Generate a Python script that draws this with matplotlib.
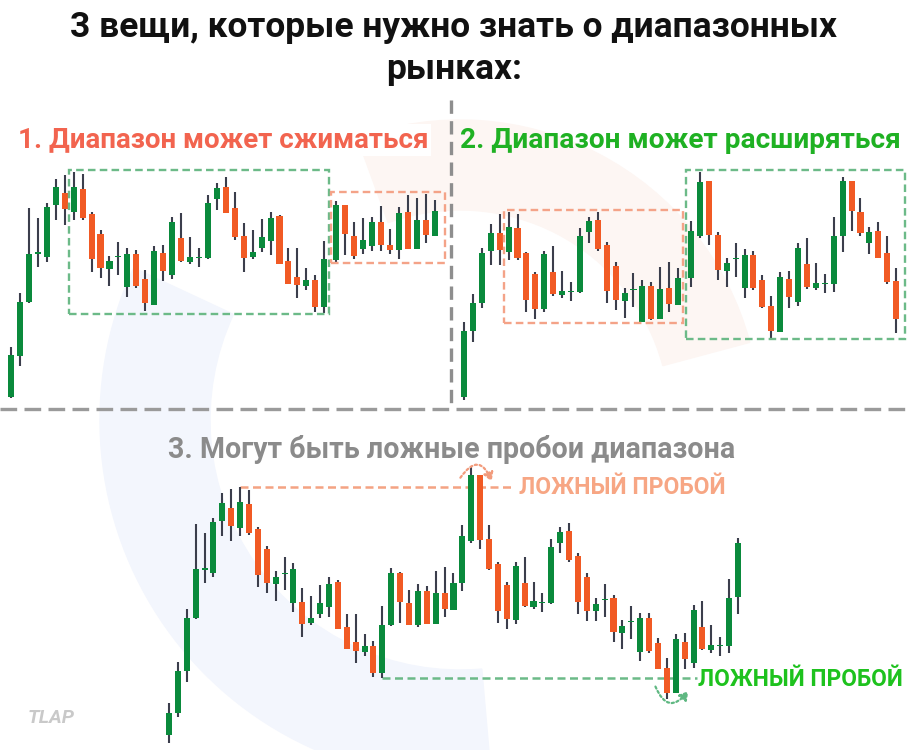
import matplotlib.pyplot as plt
from matplotlib.patches import Rectangle, Wedge, FancyArrowPatch

plt.rcParams['font.family'] = ['Roboto', 'DejaVu Sans']

# ---- data (price units) ----
# panel 1: range contracts
p1_open  = [3, 44, 98, 146, 143, 195, 207, 188, 211, 186, 166, 131, 143.5, 113, 146, 121, 95, 147, 125, 162,
            138, 142.5, 142, 201, 213, 192, 164, 143, 152, 159, 184, 139, 123, 114, 120, 93,
            140, 195, 164, 151, 154, 178, 155, 150, 188, 151, 180, 164]
p1_high  = [53, 107, 192, 182, 197, 221, 225, 228, 226, 188, 170, 144, 158, 152, 150, 130, 154, 155, 183, 187,
            163, 152, 205, 217, 223, 208, 177, 170, 181, 188, 185, 152, 152, 132, 125, 159,
            199, 195, 178, 182, 183, 194, 171, 193, 205, 202, 206, 200]
p1_low   = [2, 34, 97, 133, 138, 180, 175, 180, 180, 128, 122, 114, 125, 103, 112, 89, 95, 119, 121, 138,
            136, 133, 141, 190, 187, 160, 128, 141, 148, 145, 136, 116, 102, 110, 88, 87,
            138, 145, 141, 146, 149, 149, 146, 141, 151, 151, 157, 164]
p1_close = [45, 98, 146, 148, 193, 213, 191, 213, 182, 141, 132, 139, 144.5, 146, 114, 97, 149, 129, 178, 139,
            143, 143.5, 197, 212, 187, 163, 142, 148, 163, 182, 136, 116, 115, 120, 93, 141,
            195, 166, 144, 160, 178, 155, 150, 187, 151, 180, 165, 189]

# panel 2: range expands
p2_open  = [3, 69, 97, 149, 167, 148, 172, 147, 126, 91, 128, 105, 108.5, 108, 168, 180, 155, 134, 99, 110.5,
            78, 114, 81, 112, 95,
            122, 164, 219, 165, 129, 141.5, 112, 145, 120, 94, 68, 121, 98, 136, 112, 116.5, 116, 164, 219,
            188, 157, 169, 147, 119]
p2_high  = [78, 106, 152, 176, 186, 188, 186, 148, 128, 149, 154, 129, 118, 172, 183, 188, 158, 138, 112, 127,
            120, 118, 133, 138, 132,
            179, 228, 219, 168, 142, 157, 151, 149, 125, 104, 128, 129, 157, 162, 137, 126, 183, 223, 219,
            202, 173, 178, 164, 132]
p2_low   = [0, 58, 92, 135, 135, 140, 140, 88, 81, 88, 104, 102, 99, 107, 157, 149, 97, 90, 82, 93,
            78, 80, 81, 88, 95,
            113, 162, 155, 120, 113, 123, 102, 110, 92, 62, 68, 92, 94, 111, 110, 107, 108, 148, 169,
            164, 146, 142, 116, 67]
p2_close = [69, 97, 147, 167, 150, 173, 142, 100, 91, 146, 106, 109, 109.5, 164, 179, 151, 109, 100, 107, 111.5,
            114, 81, 111, 96, 122,
            169, 218, 165, 130, 137, 142.5, 145, 112, 93, 69, 123, 103, 152, 113, 117, 117.5, 164, 219, 189,
            167, 168, 142, 118, 81]

# panel 3: false breakouts
p3_open  = [15, 37, 79, 132, 181, 177, 229, 242, 222, 246, 221, 201, 166, 176.5, 147, 148, 127, 136, 143, 168,
            123, 108, 98, 104, 77, 125, 177, 147, 125, 159, 126, 157, 140, 167, 209, 275, 211, 186, 165, 130,
            167, 143, 147.5, 147, 207, 219, 194, 173, 139, 150.5, 152, 117, 128.5, 98, 132, 107, 82, 57, 108, 87,
            123, 100, 104.5, 104, 153]
p3_high  = [47, 88, 141, 226, 217, 232, 257, 261, 263, 260, 223, 204, 179, 193, 187, 162, 154, 165, 173, 170,
            136, 136, 116, 109, 144, 182, 178, 160, 166, 164, 179, 183, 177, 225, 284, 275, 225, 188, 168, 188,
            193, 168, 157, 211, 223, 227, 197, 177, 152, 166, 155, 130, 144, 137, 137, 112, 92, 116, 117, 145,
            149, 125, 113, 171, 212]
p3_low   = [7, 33, 68, 131, 167, 173, 214, 209, 214, 215, 163, 157, 149, 160, 138, 113, 125, 132, 133, 121,
            101, 87, 94, 73, 72, 124, 127, 125, 123, 126, 126, 133, 140, 159, 207, 201, 180, 127, 121, 126,
            143, 141, 138, 146, 197, 188, 136, 129, 129, 133, 108, 101, 111, 89, 97, 81, 51, 57, 81, 82,
            100, 97, 94, 97, 136]
p3_close = [37, 79, 132, 181, 182, 228, 247, 224, 248, 217, 175, 167, 173, 177.5, 181, 126, 132, 147, 166, 121,
            101, 99, 104, 77, 125, 177, 148, 125, 159, 126, 157, 141, 167, 214, 275, 210, 181, 139, 131, 184,
            144, 149, 148.5, 203, 218, 190, 148, 139, 146, 151.5, 118, 124, 129.5, 132, 99, 81, 57, 111, 91, 140,
            101, 105, 105.5, 152, 207]

p1_boxes = [(7, 35, 0.56, '#6cba88'), (36, 47, 1.1, '#f4a388')]
p2_boxes = [(5, 24, 0.5, '#f4a388'), (25, 48, 1.0, '#6cba88')]

title1 = "3 вещи, которые нужно знать о диапазонных"
title2 = "рынках:"
sub1 = "1. Диапазон может сжиматься"
sub2 = "2. Диапазон может расширяться"
sub3 = "3. Могут быть ложные пробои диапазона"
fake = "ЛОЖНЫЙ ПРОБОЙ"

GREEN = '#0a8a3c'
RED = '#f15a24'
WICK = '#3b3e4c'

W, H = 910, 750
fig = plt.figure(figsize=(9.1, 7.5), dpi=100)
fig.patch.set_facecolor('white')

# background axes in pixel coordinates (dividers, faint logo)
bg = fig.add_axes([0, 0, 1, 1])
bg.set_xlim(0, W)
bg.set_ylim(H, 0)
bg.axis('off')
bg.add_patch(Wedge((460, 420), 360, 85, 205, width=110, color='#f3f6fd', zorder=0))
bg.add_patch(Wedge((460, 420), 300, 250, 345, width=90, color='#fdf6f3', zorder=0))
bg.plot([451, 451], [100, 404], ls=(0, (4, 2.2)), color='#8e8e8e', lw=2.4, zorder=1)
bg.plot([0, W], [409, 409], ls=(0, (5, 2.2)), color='#9a9a9a', lw=2.4, zorder=1)


def panel(px0, py0, px1, py1, xlim, ylim):
    ax = fig.add_axes([px0 / W, 1 - py1 / H, (px1 - px0) / W, (py1 - py0) / H])
    ax.set_xlim(*xlim)
    ax.set_ylim(*ylim)
    ax.axis('off')
    ax.patch.set_alpha(0)
    return ax


def candles(ax, o, h, l, c, pos, width=0.68):
    for x, oo, hh, ll, cc in zip(pos, o, h, l, c):
        col = GREEN if cc >= oo else RED
        ax.vlines(x, ll, hh, color=WICK, lw=1.5, zorder=2)
        ax.bar(x, max(abs(cc - oo), 1.6), bottom=min(oo, cc) - (0.8 if abs(cc - oo) < 1.6 else 0),
               width=width, color=col, zorder=3)


def boxes(ax, specs, pos, h, l):
    for a, b, rpad, col in specs:
        top = max(h[a:b + 1]) + 2.5
        bot = min(l[a:b + 1]) - 1
        x0 = pos[a] - 0.56
        ax.add_patch(Rectangle((x0, bot), pos[b] + rpad - x0, top - bot, fill=False,
                               ec=col, lw=1.7, ls=(0, (3.2, 1.8)), zorder=4))


# panel 1
ax1 = panel(0, 160, 450, 410, (-1.23, 49.05), (-10, 240))
pos1 = [i + (0.35 if i >= 36 else 0) for i in range(len(p1_open))]
candles(ax1, p1_open, p1_high, p1_low, p1_close, pos1)
boxes(ax1, p1_boxes, pos1, p1_high, p1_low)

# panel 2
ax2 = panel(455, 160, 910, 410, (-1.01, 50.0), (-10, 240))
pos2 = [i + (0.45 if i >= 25 else 0) for i in range(len(p2_open))]
candles(ax2, p2_open, p2_high, p2_low, p2_close, pos2)
boxes(ax2, p2_boxes, pos2, p2_high, p2_low)

# panel 3
ax3 = panel(0, 410, 910, 750, (-19.01, 83.35), (0, 340))
pos3 = list(range(len(p3_open)))
candles(ax3, p3_open, p3_high, p3_low, p3_close, pos3)
ax3.hlines(p3_high[8], pos3[8], 38.9, color='#f4a383', lw=1.8, ls=(0, (3.2, 1.8)), zorder=1)
ax3.hlines(p3_low[24], pos3[24], 59.4, color='#6cba88', lw=1.8, ls=(0, (3.2, 1.8)), zorder=1)
ax3.text(39.4, p3_high[8], fake, color='#f7a684', fontsize=16.6, fontweight='bold',
         va='center', ha='left', zorder=5)
ax3.text(59.5, p3_low[24] - 2, fake, color='#1ec21e', fontsize=16.4, fontweight='bold',
         va='center', ha='left', zorder=5)
ax3.add_patch(FancyArrowPatch((32.6, 270), (36.4, 266), connectionstyle='arc3,rad=-1.0',
                              arrowstyle='-|>,head_length=5,head_width=3', color='#f29b7c',
                              lw=1.6, ls=(0, (1, 1.2)), zorder=5))
ax3.add_patch(FancyArrowPatch((54.6, 66), (58.6, 61), connectionstyle='arc3,rad=0.9',
                              arrowstyle='-|>,head_length=5,head_width=3', color='#5fb882',
                              lw=1.6, ls=(0, (1, 1.2)), zorder=5))

# texts
bg.text(454, 28, title1, ha='center', va='center', fontsize=25.5, fontweight='bold',
        color='#111111', zorder=6)
bg.text(454, 70, title2, ha='center', va='center', fontsize=25.5, fontweight='bold',
        color='#111111', zorder=6)
bg.text(18, 140, sub1, ha='left', va='center', fontsize=20, fontweight='bold', color='#f2644f',
        zorder=6, bbox=dict(fc='white', ec='none', pad=2))
bg.text(460, 140, sub2, ha='left', va='center', fontsize=20.2, fontweight='bold', color='#1fb123',
        zorder=6)
bg.text(452, 449, sub3, ha='center', va='center', fontsize=20.6, fontweight='bold', color='#8b8b8b',
        zorder=6)
bg.text(28, 718, 'TLAP', ha='left', va='center', fontsize=14, fontweight='bold', style='italic',
        color='#c9c9c9', zorder=6)

fig.savefig('out.png', dpi=100, facecolor='white')
